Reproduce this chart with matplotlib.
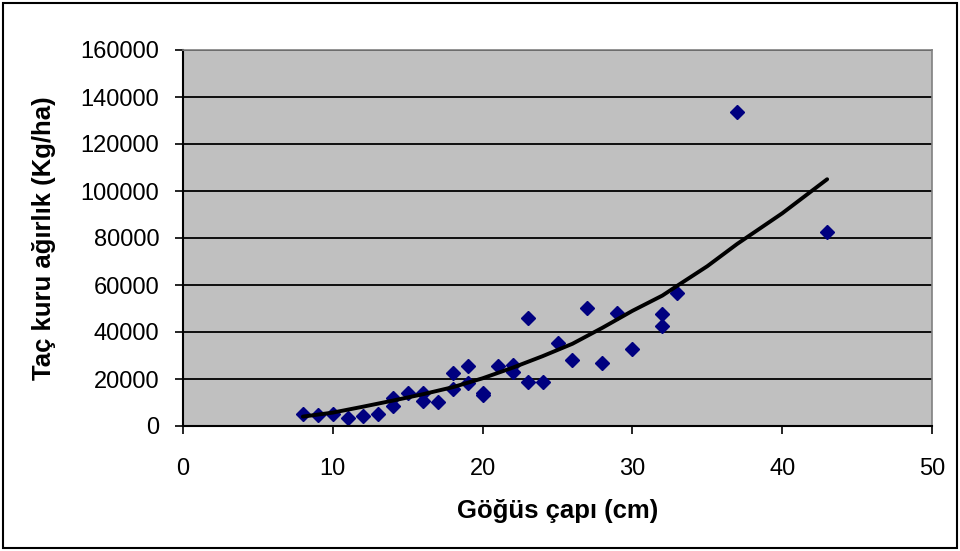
import matplotlib
matplotlib.use('Agg')
import matplotlib.pyplot as plt
from matplotlib.patches import Rectangle

# observed points (Göğüs çapı cm, Taç kuru ağırlık kg/ha)
diameter = [8, 9, 10, 11, 12, 13, 14, 14, 15, 16, 16, 17, 18, 18, 19, 19,
            20, 20, 21, 22, 22, 23, 23, 24, 25, 26, 27, 28, 29, 30, 32, 32,
            33, 37, 43]
weight = [5100, 4700, 5100, 3300, 4400, 5100, 11800, 8500, 13900, 13900,
          10800, 10100, 22400, 15600, 25700, 18200, 14000, 13000, 25700,
          26000, 22800, 46100, 18900, 18900, 35200, 28100, 50300, 26700,
          48000, 32600, 47500, 42500, 56500, 133700, 82700]

# trend line
trend_x = [8, 10, 12, 14, 16, 18, 20, 22, 24, 26, 28, 30, 32, 33, 35, 37, 40, 43]
trend_y = [4000, 5700, 8200, 10800, 13500, 16500, 20300, 24800, 29700, 35000,
           41800, 49000, 55500, 59700, 68000, 77500, 90500, 105000]

x_ticks = [0, 10, 20, 30, 40, 50]
y_ticks = [0, 20000, 40000, 60000, 80000, 100000, 120000, 140000, 160000]

plt.rcParams['font.family'] = ['Liberation Sans', 'DejaVu Sans']

fig = plt.figure(figsize=(9.6, 5.51), dpi=100)
ax = fig.add_axes([183 / 960, 1 - 426 / 551, (932 - 183) / 960, (426 - 50) / 551])
ax.set_facecolor('#C0C0C0')

for yv in y_ticks[1:]:
    ax.axhline(yv, color='black', lw=1.3, zorder=1)

ax.plot(diameter, weight, linestyle='none', marker='D', markersize=6.8,
        color='#000080', zorder=2)
ax.plot(trend_x, trend_y, color='black', lw=2.8, zorder=3,
        solid_joinstyle='round', solid_capstyle='round')

ax.set_xlim(0, 50)
ax.set_ylim(0, 160000)
ax.set_xticks(x_ticks)
ax.set_yticks(y_ticks)
ax.tick_params(direction='out', length=6, width=1.2, labelsize=17, color='black')
ax.tick_params(axis='y', pad=11)
ax.tick_params(axis='x', pad=17)

for s in ['top', 'right']:
    ax.spines[s].set_color('#808080')
    ax.spines[s].set_linewidth(1.2)
for s in ['left', 'bottom']:
    ax.spines[s].set_color('black')
    ax.spines[s].set_linewidth(1.5)

ax.set_xlabel('Göğüs çapı (cm)', fontsize=18.5, fontweight='bold', labelpad=14)
ax.set_ylabel('Taç kuru ağırlık (Kg/ha)', fontsize=18.5, fontweight='bold', labelpad=18)

# outer chart border
fig.patches.append(Rectangle((3 / 960, 3 / 551), 954 / 960, 545 / 551,
                             transform=fig.transFigure, fill=False,
                             edgecolor='black', lw=1.5))

plt.savefig('out.png', dpi=100)
plt.close()
